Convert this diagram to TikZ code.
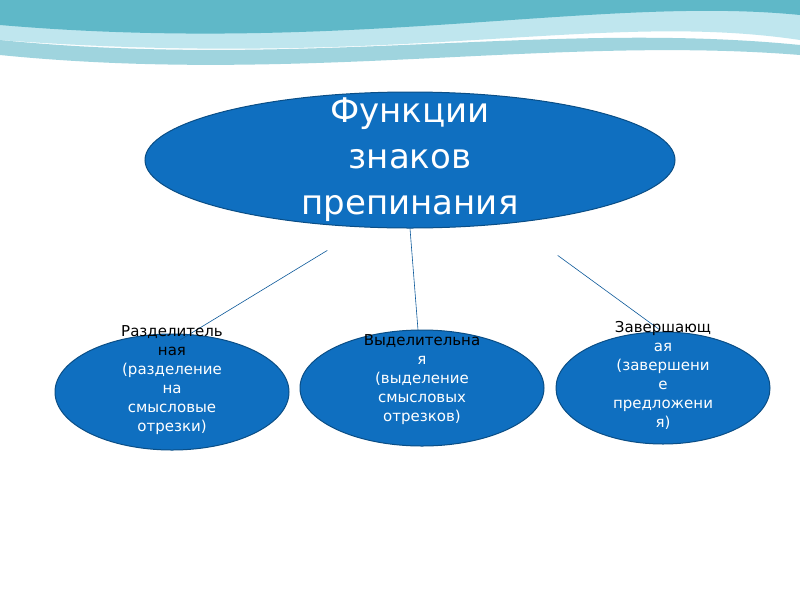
\documentclass[tikz,border=0pt]{standalone}
\usepackage{fontspec}
\setmainfont{DejaVu Sans}
\usetikzlibrary{shapes.geometric}
\definecolor{slideblue}{HTML}{0F6FC0}
\definecolor{wavedark}{HTML}{5FB8C8}
\definecolor{wavelight}{HTML}{BFE6EE}
\tikzset{
  oval/.style={ellipse,draw=slideblue!70!black,fill=slideblue,line width=1pt},
  label text/.style={align=center,font=\fontsize{15}{19}\selectfont,text=white},
  link/.style={draw=slideblue!80!black,line width=0.6pt}
}
\begin{document}
\begin{tikzpicture}[x=1pt,y=-1pt]
\useasboundingbox (0,0) rectangle (800,600);
\fill[white] (0,0) rectangle (800,600);
% waves at the top
\fill[wavelight] (0,0) -- (800,0) -- (800,40) .. controls (600,10) and (400,70) .. (0,40) -- cycle;
\fill[wavedark] (0,0) -- (800,0) -- (800,15) .. controls (600,-5) and (350,55) .. (0,25) -- cycle;
\fill[wavedark!60] (0,40) .. controls (300,70) and (550,20) .. (800,45) -- (800,55) .. controls (550,35) and (300,85) .. (0,55) -- cycle;
\node[oval,minimum width=530,minimum height=136] (top) at (410,160) {};
\node[align=center,text=white,font=\fontsize{34}{46}\selectfont] (title) at (410,160) {Функции\\знаков\\препинания};
\node[oval,minimum width=234,minimum height=116] (left) at (172,392) {};
\node[oval,minimum width=244,minimum height=116] (mid) at (422,388) {};
\node[oval,minimum width=214,minimum height=112] (right) at (663,388) {};
\coordinate (leftend) at (180,340);
\coordinate (midend) at (418,330);
\coordinate (rightend) at (660,330);
\draw[link] (top.south west) ++(105,42) coordinate (ltop) (ltop) -- (leftend);
\draw[link] (top.south) -- (midend);
\draw[link] (top.south east) ++(-40,47) coordinate (rtop) (rtop) -- (rightend);
\begin{scope}
\clip (0,0) rectangle (800,455);
\node[label text,anchor=north] (lefttext) at (172,322) {\textcolor{black}{Разделитель}\\\textcolor{black}{ная}\\(разделение\\на\\смысловые\\отрезки)};
\node[label text,anchor=north] (midtext) at (422,331) {\textcolor{black}{Выделительна}\\я\\(выделение\\смысловых\\отрезков)};
\node[label text,anchor=north] (righttext) at (663,318) {\textcolor{black}{Завершающ}\\ая\\(завершени\\е\\предложени\\я)};
\end{scope}
\end{tikzpicture}
\end{document}
